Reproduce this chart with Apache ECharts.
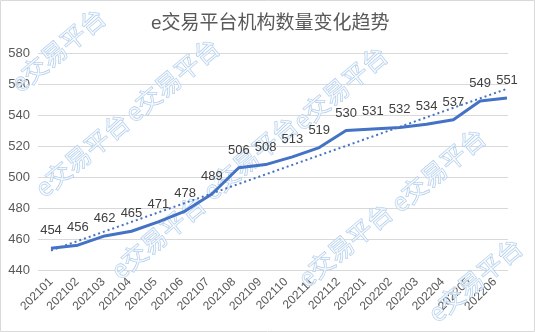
<!DOCTYPE html>
<html><head><meta charset="utf-8">
<script src="https://cdn.jsdelivr.net/npm/echarts@6/dist/echarts.min.js"></script>
<style>html,body{margin:0;padding:0;background:#fff;}#c{width:535px;height:332px;}</style>
</head><body><div id="c"></div>
<script>
const categories = ['202101','202102','202103','202104','202105','202106','202107','202108','202109','202110','202111','202112','202201','202202','202203','202204','202205','202206'];
const values = [454,456,462,465,471,478,489,506,508,513,519,530,531,532,534,537,549,551];
const trendEnds = [452.6, 556.9];
const yTicks = {min:440, max:580, interval:20};
const titleText = 'e交易平台机构数量变化趋势';
const watermarkText = 'e交易平台';
const watermarkCenters = [[58,50],[172,80],[82,155],[340,88],[158,237],[250,158],[345,245],[438,170],[475,280]];

const FONT = '"Liberation Sans","Noto Sans CJK SC",sans-serif';
const chart = echarts.init(document.getElementById('c'), null, {renderer:'canvas'});
const rot = 40*Math.PI/180;
const graphics = [{type:'rect', shape:{x:0.5,y:0.5,width:534,height:331}, style:{fill:'none',stroke:'#d9d9d9',lineWidth:1}, z:-1, silent:true}];
watermarkCenters.forEach(c=>{
  graphics.push({type:'text', x:c[0], y:c[1], rotation:rot, z:1, silent:true,
    style:{text:watermarkText, fill:'rgba(255,255,255,0.6)', stroke:'#a8c8ea', lineWidth:1,
      font:'25px "Noto Sans CJK SC"', textAlign:'center', textVerticalAlign:'middle'}});
});
chart.setOption({
  animation:false,
  title:{text:titleText, left:146, top:9, textStyle:{fontSize:19, fontWeight:'normal', color:'#595959', fontFamily:FONT}},
  grid:[{left:38,right:27,top:53,bottom:62},{left:51,right:28,top:53,bottom:62}],
  xAxis:[
    {type:'category', gridIndex:0, data:categories, boundaryGap:true, axisLine:{show:false}, axisTick:{show:false},
     axisLabel:{rotate:45, margin:10, color:'#595959', fontSize:12, fontFamily:FONT, interval:0}},
    {type:'category', gridIndex:1, data:categories, boundaryGap:false, show:false}
  ],
  yAxis:[
    {type:'value', gridIndex:0, min:yTicks.min, max:yTicks.max, interval:yTicks.interval,
     axisLine:{show:false}, axisTick:{show:false}, splitLine:{lineStyle:{color:'#d9d9d9'}},
     axisLabel:{color:'#595959', fontSize:13, fontFamily:FONT, margin:8}},
    {type:'value', gridIndex:1, min:yTicks.min, max:yTicks.max, interval:yTicks.interval, show:false, splitLine:{show:false}}
  ],
  series:[
    {type:'line', xAxisIndex:1, yAxisIndex:1, data:values, symbol:'circle', symbolSize:0.1, showSymbol:true,
     itemStyle:{color:'#4472c4'}, lineStyle:{color:'#4472c4', width:3}, z:3,
     label:{show:true, position:'top', distance:11, color:'#404040', fontSize:13, fontFamily:FONT},
     labelLayout:{hideOverlap:false}},
    {type:'line', xAxisIndex:1, yAxisIndex:1, data:[[0,trendEnds[0]],[categories.length-1,trendEnds[1]]], symbol:'none',
     lineStyle:{color:'#4472c4', width:2, type:[2,3]}, z:2}
  ],
  graphic:graphics
});
</script></body></html>
